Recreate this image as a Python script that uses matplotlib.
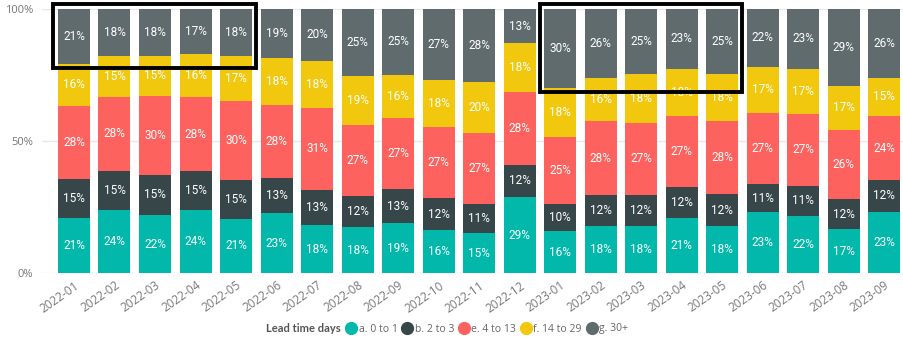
import numpy as np
import matplotlib.pyplot as plt
from matplotlib.lines import Line2D
from matplotlib.patches import Rectangle

meses = ['2022-01', '2022-02', '2022-03', '2022-04', '2022-05', '2022-06', '2022-07',
         '2022-08', '2022-09', '2022-10', '2022-11', '2022-12', '2023-01', '2023-02',
         '2023-03', '2023-04', '2023-05', '2023-06', '2023-07', '2023-08', '2023-09']

series = ['a. 0 to 1', 'b. 2 to 3', 'e. 4 to 13', 'f. 14 to 29', 'g. 30+']

# porcentajes (por mes)
a_0_1 = [20.8, 24.1, 22.1, 24.0, 20.7, 22.9, 18.4, 17.6, 19.1, 16.4, 15.1,
         29.0, 16.1, 17.9, 17.9, 20.8, 17.9, 23.1, 21.8, 16.6, 23.3]
b_2_3 = [14.9, 14.6, 15.1, 14.6, 14.6, 13.3, 13.1, 11.6, 12.7, 12.0, 11.0,
         11.9, 10.0, 11.6, 11.7, 12.0, 12.0, 10.7, 11.2, 11.6, 12.0]
e_4_13 = [27.6, 28.0, 30.0, 28.0, 30.0, 27.6, 31.2, 26.8, 27.1, 26.8, 26.8,
          27.8, 25.4, 28.2, 27.4, 26.7, 27.6, 27.0, 27.3, 26.0, 24.1]
f_14_29 = [15.9, 15.3, 15.0, 16.4, 16.7, 17.6, 17.6, 18.6, 16.2, 17.8, 19.5,
           18.2, 18.4, 16.3, 18.2, 17.7, 17.9, 17.3, 17.0, 16.8, 14.6]
g_30 = [20.8, 18.0, 17.8, 17.0, 18.0, 18.6, 19.7, 25.4, 24.9, 27.0, 27.6,
        13.1, 30.1, 26.0, 24.8, 22.8, 24.6, 21.9, 22.7, 29.0, 26.0]

colores = ['#01B8AA', '#374649', '#FD625E', '#F2C80F', '#5F6B6D']

datos = np.array([a_0_1, b_2_3, e_4_13, f_14_29, g_30])
datos = datos / datos.sum(axis=0) * 100

fig = plt.figure(figsize=(9.04, 3.4), dpi=100)
ax = fig.add_axes([0.046, 0.196, 0.954, 0.778])

x = np.arange(len(meses))
base = np.zeros(len(meses))
for i in range(len(series)):
    ax.bar(x, datos[i], 0.79, bottom=base, color=colores[i], zorder=2)
    for j in range(len(meses)):
        ax.text(x[j], base[j] + datos[i][j] / 2, '%d%%' % round(datos[i][j]),
                ha='center', va='center', color='white', fontsize=8.5,
                family='Roboto', zorder=3)
    base = base + datos[i]

# cajas negras de resaltado
ax.add_patch(Rectangle((-0.53, 77.5), 5.02, 24.3, fill=False, ec='black',
                       lw=2.8, zorder=4, clip_on=False))
ax.add_patch(Rectangle((11.5, 68.7), 4.99, 33.1, fill=False, ec='black',
                       lw=2.8, zorder=4, clip_on=False))

ax.set_xlim(-0.8, 20.49)
ax.set_ylim(0, 100)
ax.set_yticks([0, 50, 100])
ax.set_yticklabels(['0%', '50%', '100%'], color='#777777', fontsize=8, family='Open Sans')
ax.set_xticks(x)
ax.set_xticklabels(meses, rotation=35, ha='right', rotation_mode='anchor',
                   color='#777777', fontsize=8.5, family='Open Sans')
ax.tick_params(length=0, pad=6)
ax.tick_params(axis='x', pad=4)
ax.grid(axis='y', color='#E8E8E8', lw=1, zorder=0)
for s in ax.spines.values():
    s.set_visible(False)

fig.text(266 / 904, 1 - 329 / 340, 'Lead time days', fontsize=8, fontweight='bold',
         color='#555555', va='center', ha='left', family='Lato')
manijas = [Line2D([], [], marker='o', ls='', markersize=8.5, color=c) for c in colores]
leg = fig.legend(manijas, series, loc='center left', bbox_to_anchor=(344 / 904, 1 - 329 / 340),
                 ncol=5, frameon=False, handletextpad=0.0, columnspacing=0.25,
                 borderpad=0, borderaxespad=0, handlelength=1.4,
                 prop={'family': 'Open Sans', 'size': 7.5})
for t in leg.get_texts():
    t.set_color('#666666')

fig.savefig('out.png', dpi=100)
